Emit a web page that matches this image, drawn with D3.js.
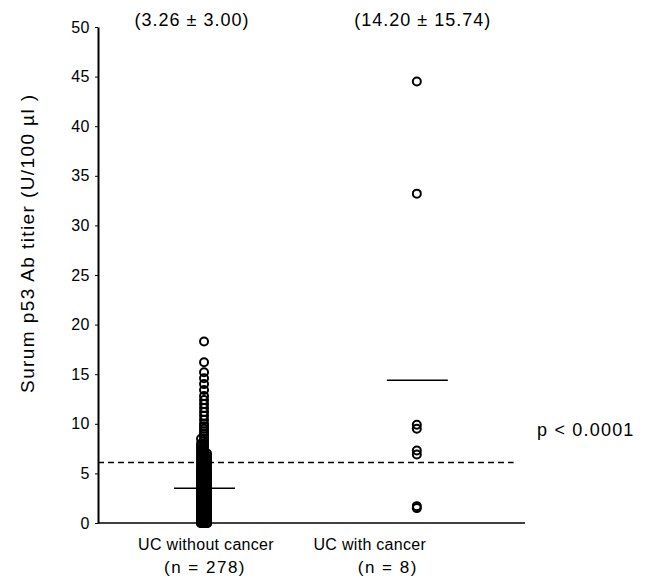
<!DOCTYPE html>
<html>
<head>
<meta charset="utf-8">
<script src="https://cdn.jsdelivr.net/npm/d3@7"></script>
<style>
  body { margin: 0; background: #fff; }
  text { font-family: "Liberation Sans", Arial, sans-serif; fill: #000; }
</style>
</head>
<body>
<div id="chart"></div>
<script>
// groups on the x axis
const groupNames = ["UC without cancer", "UC with cancer"];
const groupCounts = ["(n = 278)", "(n = 8)"];
const groupStats = ["(3.26 \u00b1 3.00)", "(14.20 \u00b1 15.74)"];

// group 1: dense part as [value, how many]
const group1Bins = [
  [0, 13], [0.25, 13], [0.5, 13], [0.75, 12], [1, 14], [1.25, 13], [1.5, 12], [1.75, 12],
  [2, 12], [2.25, 11], [2.5, 10], [2.75, 10], [3, 10], [3.25, 10], [3.5, 9], [3.75, 9],
  [4, 8], [4.25, 8], [4.5, 7], [4.75, 6], [5, 6], [5.25, 5], [5.5, 5], [5.75, 4],
  [6, 4], [6.25, 3], [6.5, 3], [6.75, 3], [7, 3], [7.25, 2], [7.5, 2], [7.75, 2],
  [8, 2], [8.25, 1], [8.5, 2], [8.75, 1], [9, 1], [9.25, 1], [9.5, 1], [9.75, 1]
];
// group 1: the sparse top values
const group1Top = [18.3, 16.2, 15.2, 14.6, 14.0, 13.4, 12.8, 12.4, 12.0, 11.6, 11.2, 10.8, 10.4, 10.0];
// group 2 values
const group2Values = [44.5, 33.2, 9.9, 9.5, 7.3, 6.9, 1.7, 1.5];

// mean bars as drawn
const meanValues = [3.5, 14.4];
const cutoff = 6.1;
const yTicks = [0, 5, 10, 15, 20, 25, 30, 35, 40, 45, 50];

const W = 660, H = 582;
const margin = { top: 27, right: 135, bottom: 59, left: 98 };

const svg = d3.select("#chart").append("svg")
  .attr("width", W)
  .attr("height", H);

const x = d3.scaleLinear()
  .domain([0, 3])
  .range([margin.left, W - margin.right]);
const y = d3.scaleLinear()
  .domain([0, 50])
  .range([H - margin.bottom, margin.top]);
// group centres
const gx = [x(0.745), x(2.24)];

// y axis
const yAxis = svg.append("g")
  .attr("transform", `translate(${margin.left},0)`)
  .call(d3.axisLeft(y).tickValues(yTicks).tickSize(3).tickSizeOuter(0));
yAxis.select(".domain").attr("stroke", "#000").attr("stroke-width", 2);
yAxis.selectAll(".tick line").attr("stroke", "#000");
yAxis.selectAll(".tick text")
  .attr("x", -8)
  .style("font-size", "16px")
  .style("letter-spacing", "0.5px")
  .style("font-family", "'Liberation Sans', Arial, sans-serif");

// x axis line
svg.append("line")
  .attr("x1", margin.left).attr("x2", x(3))
  .attr("y1", y(0)).attr("y2", y(0))
  .attr("stroke", "#000").attr("stroke-width", 1.5);

// cutoff dashed line
svg.append("line")
  .attr("x1", margin.left).attr("x2", x(2.92))
  .attr("y1", y(cutoff)).attr("y2", y(cutoff))
  .attr("stroke", "#000").attr("stroke-width", 1.5)
  .attr("stroke-dasharray", "6,4");

// points (open circles, no fill so stacked ones go solid black)
const pts1 = [];
group1Bins.forEach(([v, n]) => { for (let i = 0; i < n; i++) pts1.push({ v: v, k: i }); });
group1Top.forEach(v => pts1.push({ v: v, k: 0 }));
const jitter = [0, -3, 3];

svg.selectAll(".p1").data(pts1).enter().append("circle")
  .attr("class", "p1")
  .attr("cx", d => gx[0] + jitter[d.k % 3])
  .attr("cy", d => y(d.v))
  .attr("r", 4)
  .attr("fill", "none")
  .attr("stroke", "#000")
  .attr("stroke-width", 2);

svg.selectAll(".p2").data(group2Values).enter().append("circle")
  .attr("class", "p2")
  .attr("cx", gx[1])
  .attr("cy", d => y(d))
  .attr("r", 4)
  .attr("fill", "none")
  .attr("stroke", "#000")
  .attr("stroke-width", 2);

// mean bars
svg.selectAll(".mean").data(meanValues).enter().append("line")
  .attr("class", "mean")
  .attr("x1", (d, i) => gx[i] - 30)
  .attr("x2", (d, i) => gx[i] + 31)
  .attr("y1", d => y(d)).attr("y2", d => y(d))
  .attr("stroke", "#000").attr("stroke-width", 1.5);

// stats above
const statShift = [-12, 6];
svg.selectAll(".stat").data(groupStats).enter().append("text")
  .attr("class", "stat")
  .attr("x", (d, i) => gx[i] + statShift[i])
  .attr("y", 26)
  .attr("text-anchor", "middle")
  .style("font-size", "18px")
  .style("letter-spacing", "1px")
  .text(d => d);

// group labels
const nameShift = [2, -47];
const countShift = [1, -29];
svg.selectAll(".gname").data(groupNames).enter().append("text")
  .attr("class", "gname")
  .attr("x", (d, i) => gx[i] + nameShift[i])
  .attr("y", y(0) + 27)
  .attr("text-anchor", "middle")
  .style("font-size", "16px")
  .style("letter-spacing", "0.3px")
  .text(d => d);
svg.selectAll(".gn").data(groupCounts).enter().append("text")
  .attr("class", "gn")
  .attr("x", (d, i) => gx[i] + countShift[i])
  .attr("y", y(0) + 50)
  .attr("text-anchor", "middle")
  .style("font-size", "17px")
  .style("letter-spacing", "1.5px")
  .text(d => d);

// p value
svg.append("text")
  .attr("x", 537)
  .attr("y", y(8.8))
  .style("font-size", "18px")
  .style("letter-spacing", "1.2px")
  .text("p < 0.0001");

// y label
svg.append("text")
  .attr("transform", `translate(34,${y(28.2)}) rotate(-90)`)
  .attr("text-anchor", "middle")
  .style("font-size", "19px")
  .style("letter-spacing", "1.4px")
  .text("Surum p53 Ab titier (U/100 \u00b5l )");
</script>
</body>
</html>
